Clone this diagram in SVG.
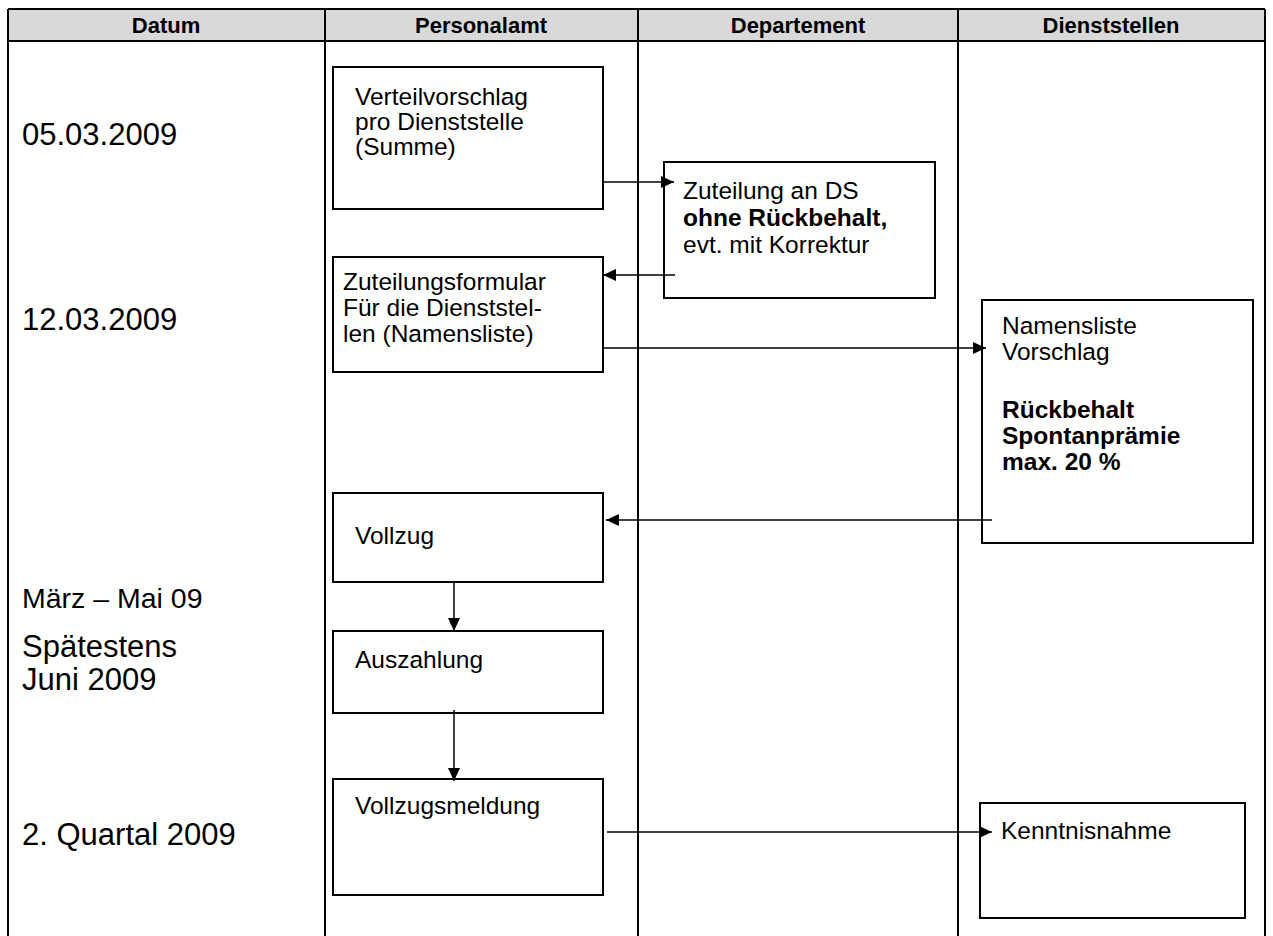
<svg xmlns="http://www.w3.org/2000/svg" width="1273" height="936" viewBox="0 0 1273 936">
<style>
.grid{stroke:#000;stroke-width:2;fill:none}
.box{fill:#fff;stroke:#000;stroke-width:2}
.t{font-family:"Liberation Sans",Arial,sans-serif;font-size:24.5px;fill:#000}
.b{font-weight:bold}
.d{font-family:"Liberation Sans",Arial,sans-serif;font-size:31px;fill:#000}
.h{font-family:"Liberation Sans",Arial,sans-serif;font-size:22px;font-weight:bold;fill:#000;text-anchor:middle}
.c{stroke:#000;stroke-width:1.5;fill:none;marker-end:url(#ah)}
</style>
<defs>
<marker id="ah" markerWidth="13" markerHeight="12" refX="13" refY="6" orient="auto" markerUnits="userSpaceOnUse">
<path d="M0,0 L13,6 L0,12 z" fill="#000"/>
</marker>
</defs>
<rect width="1273" height="936" fill="#fff"/>
<g id="table">
<rect x="8" y="9" width="1257" height="32" fill="#d9d9d9"/>
<path class="grid" d="M8,9 H1265 M8,41 H1265 M8,9 V936 M325,9 V936 M638,9 V936 M958,9 V936 M1265,9 V936"/>
<text class="h" x="166" y="33">Datum</text>
<text class="h" x="481" y="33">Personalamt</text>
<text class="h" x="798" y="33">Departement</text>
<text class="h" x="1111" y="33">Dienststellen</text>
</g>
<g id="dates">
<text class="d" x="22" y="145">05.03.2009</text>
<text class="d" x="22" y="330">12.03.2009</text>
<text class="d" x="22" y="608" style="font-size:28.5px">März – Mai 09</text>
<text class="d" x="22" y="657">Spätestens</text>
<text class="d" x="22" y="690">Juni 2009</text>
<text class="d" x="22" y="845">2. Quartal 2009</text>
</g>
<g id="n1">
<rect class="box" x="333" y="67" width="270" height="142"/>
<text class="t" x="355" y="105">Verteilvorschlag</text>
<text class="t" x="355" y="130">pro Dienststelle</text>
<text class="t" x="355" y="155">(Summe)</text>
</g>
<g id="n2">
<rect class="box" x="664" y="162" width="271" height="136"/>
<text class="t" x="683" y="199">Zuteilung an DS</text>
<text class="t b" x="683" y="226">ohne Rückbehalt,</text>
<text class="t" x="683" y="253">evt. mit Korrektur</text>
</g>
<g id="n3">
<rect class="box" x="333" y="257" width="270" height="115"/>
<text class="t" x="343" y="290">Zuteilungsformular</text>
<text class="t" x="343" y="316">Für die Dienststel-</text>
<text class="t" x="343" y="342">len (Namensliste)</text>
</g>
<g id="n4">
<rect class="box" x="982" y="300" width="271" height="243"/>
<text class="t" x="1002" y="334">Namensliste</text>
<text class="t" x="1002" y="360">Vorschlag</text>
<text class="t b" x="1002" y="418">Rückbehalt</text>
<text class="t b" x="1002" y="444">Spontanprämie</text>
<text class="t b" x="1002" y="470">max. 20 %</text>
</g>
<g id="n5">
<rect class="box" x="333" y="493" width="270" height="89"/>
<text class="t" x="355" y="544">Vollzug</text>
</g>
<g id="n6">
<rect class="box" x="333" y="631" width="270" height="82"/>
<text class="t" x="355" y="668">Auszahlung</text>
</g>
<g id="n7">
<rect class="box" x="333" y="779" width="270" height="116"/>
<text class="t" x="355" y="814">Vollzugsmeldung</text>
</g>
<g id="n8">
<rect class="box" x="980" y="803" width="265" height="115"/>
<text class="t" x="1001" y="839">Kenntnisnahme</text>
</g>
<g id="connectors">
<path class="c" d="M603,182 H674"/>
<path class="c" d="M675,275 H603"/>
<path class="c" d="M603,348 H986"/>
<path class="c" d="M992,520 H606"/>
<path class="c" d="M454,582 V631"/>
<path class="c" d="M454,710 V781"/>
<path class="c" d="M607,832 H992"/>
</g>
</svg>
